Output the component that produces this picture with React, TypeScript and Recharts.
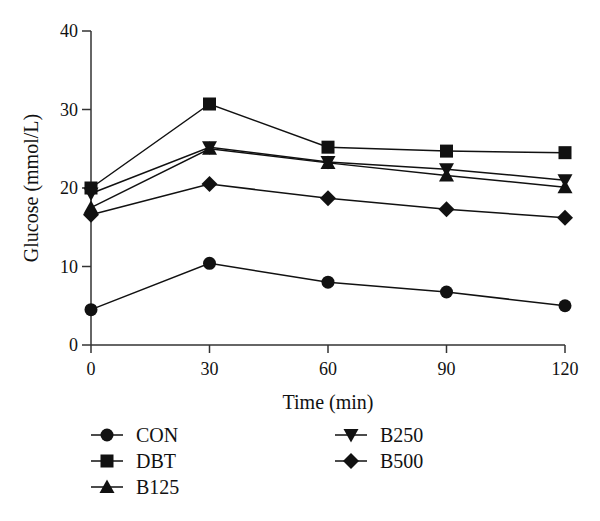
import React from 'react';
import { LineChart, Line, XAxis, YAxis, Legend } from 'recharts';

const times = [0, 30, 60, 90, 120];
const con = [4.5, 10.4, 8.0, 6.75, 5.0];
const dbt = [20.0, 30.7, 25.2, 24.7, 24.5];
const b125 = [17.5, 25.0, 23.2, 21.6, 20.1];
const b250 = [19.3, 25.2, 23.3, 22.4, 21.0];
const b500 = [16.6, 20.5, 18.7, 17.3, 16.2];

const yTicks = [0, 10, 20, 30, 40];

type Shape = 'circle' | 'square' | 'up' | 'down' | 'diamond';

const series: { key: string; name: string; shape: Shape; values: number[] }[] = [
  { key: 'con', name: 'CON', shape: 'circle', values: con },
  { key: 'dbt', name: 'DBT', shape: 'square', values: dbt },
  { key: 'b125', name: 'B125', shape: 'up', values: b125 },
  { key: 'b250', name: 'B250', shape: 'down', values: b250 },
  { key: 'b500', name: 'B500', shape: 'diamond', values: b500 },
];

const data = times.map((t, i) => {
  const row: { [k: string]: number } = { time: t };
  series.forEach((s) => (row[s.key] = s.values[i]));
  return row;
});

const INK = '#111';
const FONT = '"Liberation Serif", "Times New Roman", serif';

const Marker = ({ shape, cx, cy }: { shape: Shape; cx: number; cy: number }) => {
  switch (shape) {
    case 'circle':
      return <circle cx={cx} cy={cy} r={6.5} fill={INK} />;
    case 'square':
      return <rect x={cx - 6.5} y={cy - 6.5} width={13} height={13} fill={INK} />;
    case 'up':
      return <polygon points={`${cx},${cy - 7.5} ${cx + 7.5},${cy + 6} ${cx - 7.5},${cy + 6}`} fill={INK} />;
    case 'down':
      return <polygon points={`${cx},${cy + 7.5} ${cx + 7.5},${cy - 6} ${cx - 7.5},${cy - 6}`} fill={INK} />;
    default:
      return <polygon points={`${cx},${cy - 8} ${cx + 8},${cy} ${cx},${cy + 8} ${cx - 8},${cy}`} fill={INK} />;
  }
};

const LegendBox = () => {
  // two columns like the original figure: first three, then last two
  const cols = [series.slice(0, 3), series.slice(3)];
  return (
    <div style={{ display: 'flex', paddingLeft: 83, fontFamily: FONT, fontSize: 20, color: INK }}>
      {cols.map((col, ci) => (
        <div key={ci} style={{ width: 244 }}>
          {col.map((s) => (
            <div key={s.key} style={{ display: 'flex', alignItems: 'center', height: 26 }}>
              <svg width={40} height={20} style={{ marginRight: 13 }}>
                <line x1={8} y1={10} x2={40} y2={10} stroke={INK} strokeWidth={1.5} />
                <Marker shape={s.shape} cx={24} cy={10} />
              </svg>
              <span>{s.name}</span>
            </div>
          ))}
        </div>
      ))}
    </div>
  );
};

export default function App() {
  return (
    <div style={{ position: 'absolute', left: 0, top: 0, background: '#fff' }}>
      <LineChart width={600} height={521} data={data} margin={{ top: 31, right: 35, left: 31, bottom: 58 }}>
        <XAxis
          dataKey="time"
          type="number"
          domain={[0, 120]}
          ticks={times}
          tickSize={8}
          tickMargin={9}
          stroke="#333"
          strokeWidth={1.5}
          tick={{ fill: INK, fontSize: 18, fontFamily: FONT }}
          height={40}
          label={{ value: 'Time (min)', position: 'bottom', offset: 10, fill: INK, fontSize: 20, fontFamily: FONT }}
        />
        <YAxis
          domain={[0, 40]}
          ticks={yTicks}
          tickSize={9}
          tickMargin={4}
          width={60}
          stroke="#333"
          strokeWidth={1.5}
          tick={{ fill: INK, fontSize: 18, fontFamily: FONT }}
          label={{ value: 'Glucose (mmol/L)', angle: -90, position: 'center', dx: -30, fill: INK, fontSize: 20, fontFamily: FONT }}
        />
        <Legend
          content={() => <LegendBox />}
          wrapperStyle={{ position: 'absolute', top: 422, left: 0, width: 600 }}
        />
        {series.map((s) => (
          <Line
            key={s.key}
            dataKey={s.key}
            name={s.name}
            stroke={INK}
            strokeWidth={1.5}
            isAnimationActive={false}
            dot={(p: any) => <Marker key={`${s.key}-${p.index}`} shape={s.shape} cx={p.cx} cy={p.cy} />}
            activeDot={false}
          />
        ))}
      </LineChart>
    </div>
  );
}
